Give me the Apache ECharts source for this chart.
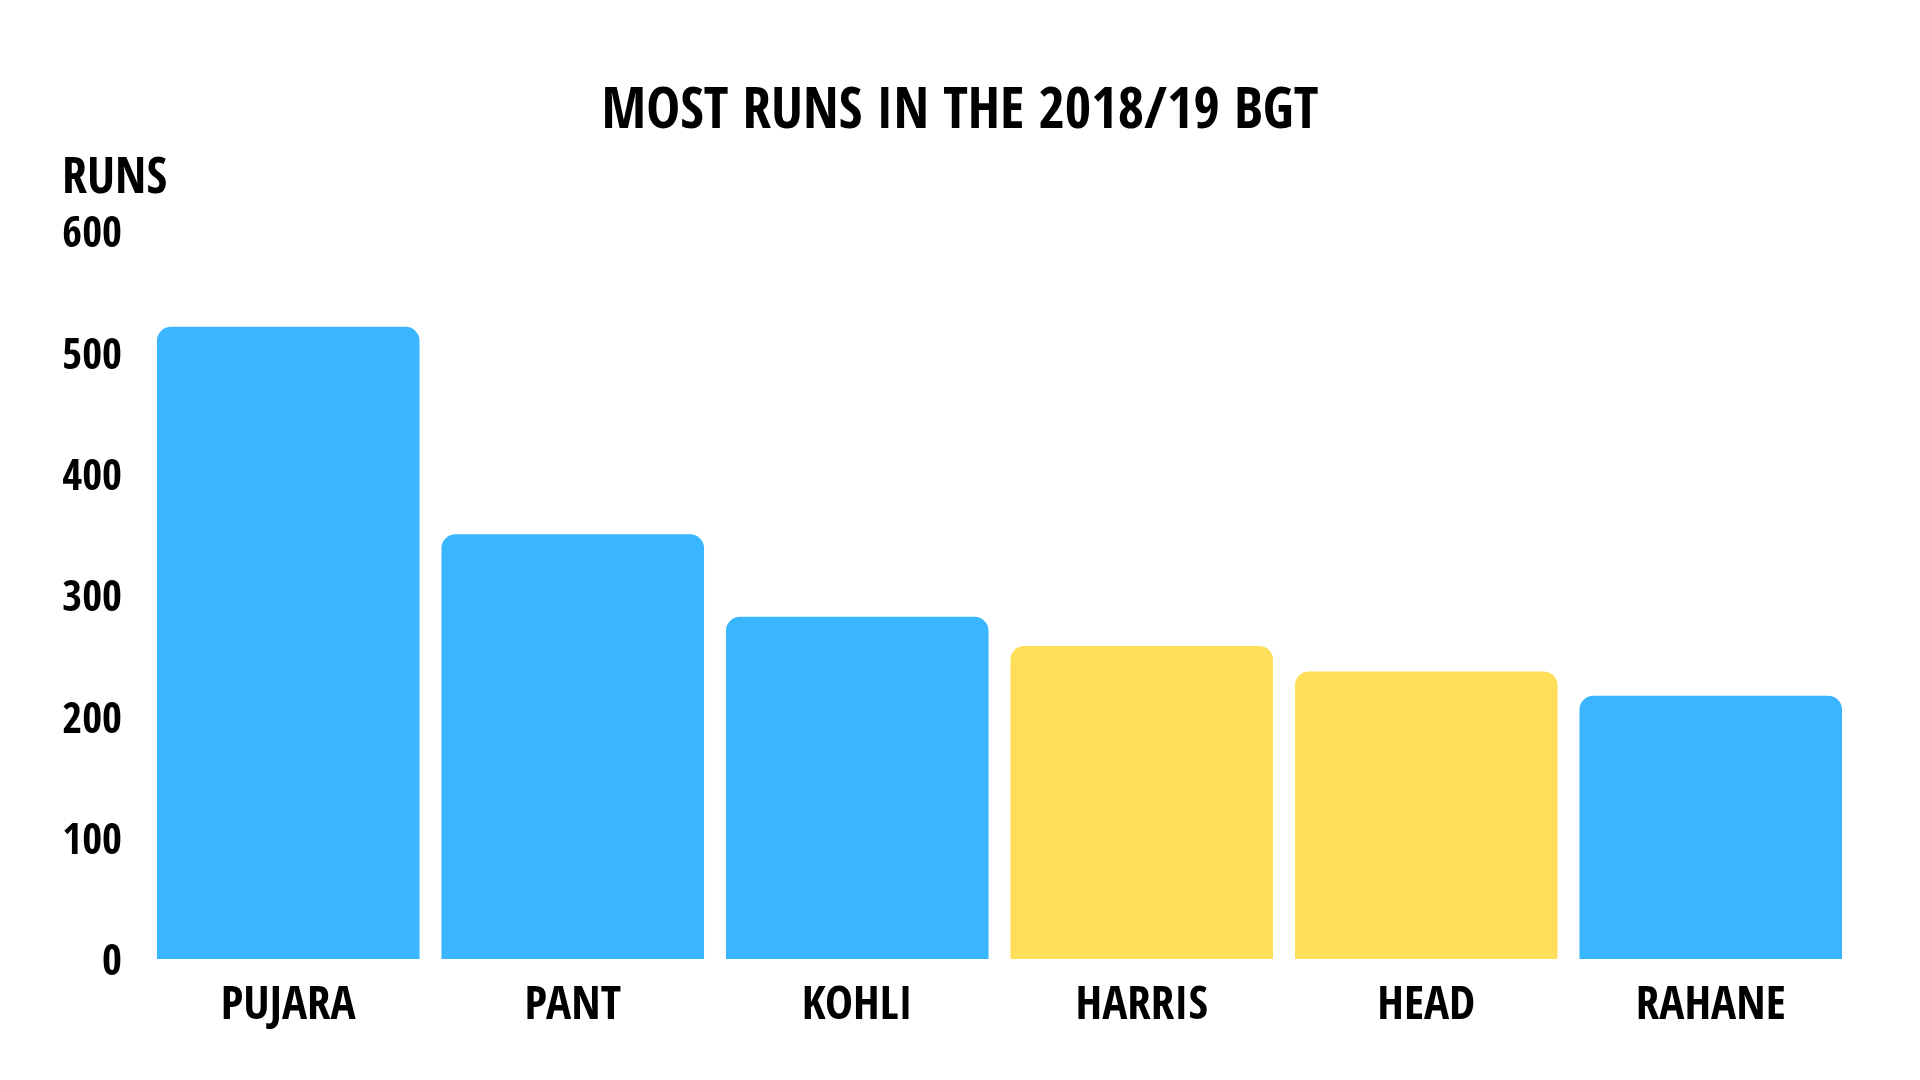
<!DOCTYPE html>
<html><head><meta charset="utf-8">
<script src="https://cdn.jsdelivr.net/npm/echarts@6/dist/echarts.min.js"></script>
<style>html,body{margin:0;padding:0;background:#fff}#c{width:1920px;height:1080px}</style>
</head><body><div id="c"></div>
<script>
const players = ['PUJARA','PANT','KOHLI','HARRIS','HEAD','RAHANE'];
const runs = [521, 350, 282, 258, 237, 217];
const teams = ['IND','IND','IND','AUS','AUS','IND'];
const teamColors = {IND:'#3AB6FF', AUS:'#FFDE59'};
const FONT = '"Open Sans Condensed","Roboto Condensed",sans-serif';
const chart = echarts.init(document.getElementById('c'));
chart.setOption({
  animation:false,
  title:{text:'MOST RUNS IN THE 2018/19 BGT', left:'center', top:80,
    textStyle:{fontFamily:FONT, fontWeight:'bold', fontSize:57, color:'#000'}},
  grid:{left:146, right:67, top:231, bottom:121},
  xAxis:{type:'category', data:players,
    axisLine:{show:false}, axisTick:{show:false},
    axisLabel:{fontFamily:FONT, fontWeight:'bold', fontSize:47, color:'#000', margin:24}},
  yAxis:{type:'value', min:0, max:600, interval:100,
    name:'RUNS', nameLocation:'end', nameGap:26,
    nameTextStyle:{fontFamily:FONT, fontWeight:'bold', fontSize:50, color:'#000', align:'left', padding:[0,0,0,-84]},
    splitLine:{show:false}, axisLine:{show:false}, axisTick:{show:false},
    axisLabel:{fontFamily:FONT, fontWeight:'bold', fontSize:43, color:'#000', margin:24, verticalAlign:'top', lineHeight:10}},
  series:[{type:'bar', barCategoryGap:'7.7%',
    data: runs.map((v,i)=>({value:v, itemStyle:{color:teamColors[teams[i]]}})),
    itemStyle:{borderRadius:[14,14,0,0]}}]
});
</script></body></html>
